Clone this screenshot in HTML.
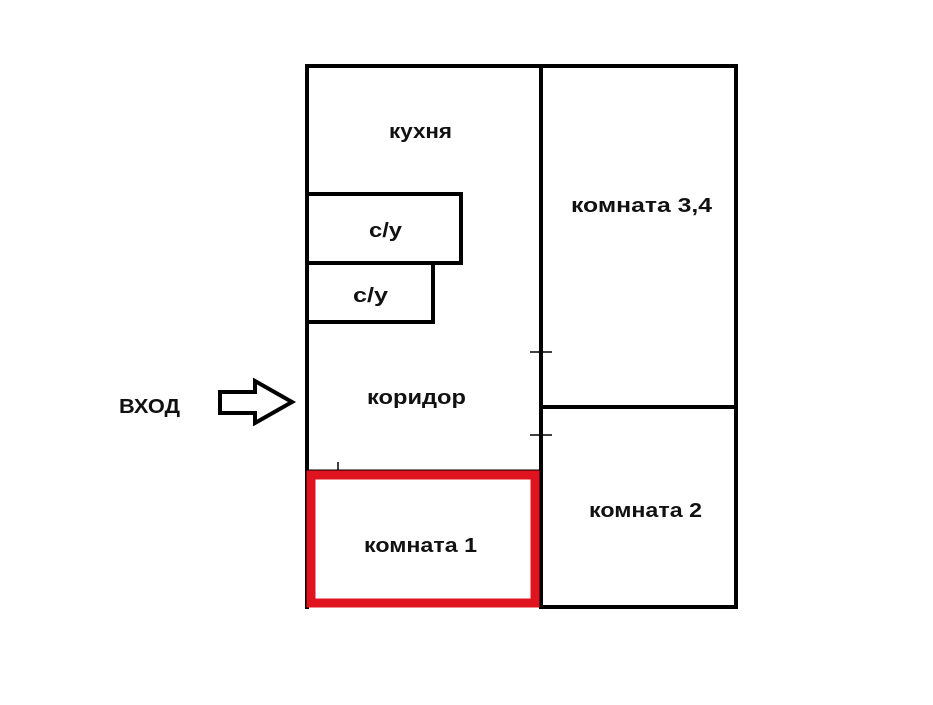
<!DOCTYPE html>
<html><head><meta charset="utf-8"><style>
body{margin:0;background:#fff;}
svg text{font-family:"Liberation Sans","DejaVu Sans",sans-serif;font-weight:bold;fill:#111;font-size:20px;}
</style></head><body>
<svg width="933" height="700" viewBox="0 0 933 700">
<g stroke="#000" stroke-width="4" fill="none">
<line x1="307" y1="66" x2="738" y2="66"/>
<line x1="307" y1="64" x2="307" y2="609"/>
<line x1="541" y1="66" x2="541" y2="609"/>
<line x1="736" y1="64" x2="736" y2="609"/>
<line x1="541" y1="607" x2="738" y2="607"/>
<line x1="541" y1="407" x2="736" y2="407"/>
<polyline points="307,194 461,194 461,263 307,263"/>
<polyline points="433,263 433,322 307,322"/>
<line x1="307" y1="471" x2="541" y2="471" stroke-width="3"/>
</g>
<g stroke="#000" stroke-width="1.5">
<line x1="530" y1="352" x2="552" y2="352"/>
<line x1="530" y1="435" x2="552" y2="435"/>
<line x1="338" y1="462" x2="338" y2="471"/>
</g>
<rect x="311" y="475" width="224" height="128" fill="none" stroke="#e0141e" stroke-width="9"/>
<polygon points="220,392 255,392 255,381 292,402 255,423 255,413 220,413" fill="#fff" stroke="#000" stroke-width="4" stroke-linejoin="miter"/>
<text x="389" y="138" textLength="63" lengthAdjust="spacingAndGlyphs">кухня</text>
<text x="369" y="237" textLength="33" lengthAdjust="spacingAndGlyphs">с/у</text>
<text x="353" y="302" textLength="35" lengthAdjust="spacingAndGlyphs">с/у</text>
<text x="571" y="212" textLength="141" lengthAdjust="spacingAndGlyphs">комната 3,4</text>
<text x="367" y="404" textLength="99" lengthAdjust="spacingAndGlyphs">коридор</text>
<text x="119" y="413" textLength="61" lengthAdjust="spacingAndGlyphs">ВХОД</text>
<text x="589" y="517" textLength="113" lengthAdjust="spacingAndGlyphs">комната 2</text>
<text x="364" y="552" textLength="113" lengthAdjust="spacingAndGlyphs">комната 1</text>
</svg>
</body></html>
